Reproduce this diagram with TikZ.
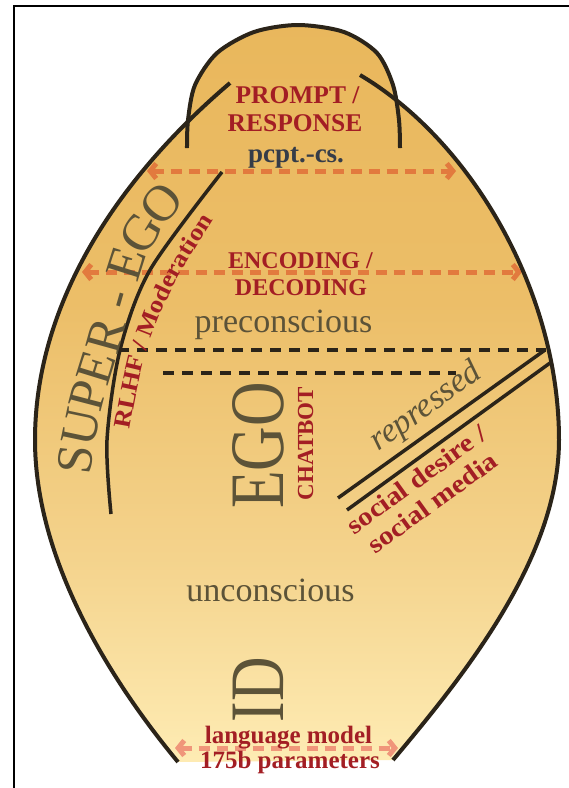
\documentclass[tikz,border=0pt]{standalone}
\usepackage{fontspec}
\usepackage{graphicx}
\setmainfont{Liberation Serif}
\newfontfamily\wideserif[FakeStretch=1.12]{Liberation Serif}
\usetikzlibrary{arrows.meta,decorations.text}
\definecolor{inkline}{RGB}{43,36,25}
\definecolor{egogray}{RGB}{92,83,56}
\definecolor{darkred}{RGB}{163,30,36}
\definecolor{slate}{RGB}{53,60,72}
\definecolor{orangeA}{RGB}{226,122,62}
\definecolor{salmonA}{RGB}{240,150,122}
\pgfdeclareverticalshading{bodyshade}{100bp}{rgb(0bp)=(0.996,0.925,0.706); rgb(25bp)=(0.996,0.925,0.706); rgb(39bp)=(0.957,0.827,0.549); rgb(56bp)=(0.925,0.745,0.408); rgb(75bp)=(0.914,0.718,0.361); rgb(100bp)=(0.914,0.718,0.361)}
\tikzset{
  bodyline/.style={draw=inkline, line width=4pt},
  thinline/.style={draw=inkline, line width=3.5pt},
  blackdash/.style={draw=inkline, line width=4pt, dash pattern=on 11pt off 8pt},
  orangearrow/.style={draw=orangeA, line width=5pt, dash pattern=on 11pt off 7pt,
    {Straight Barb[length=6pt,width=15pt]}-{Straight Barb[length=6pt,width=15pt]}},
  salmonarrow/.style={orangearrow, draw=salmonA},
  redlabel/.style={text=darkred, inner sep=0pt, anchor=base},
  graylabel/.style={text=egogray, inner sep=0pt, anchor=base},
}
\def\leftside{(178,762) .. controls (110,680) and (35,560) .. (35,440) .. controls (35,310) and (110,185) .. (230,83)}
\def\rightside{(360,75) .. controls (470,140) and (559,290) .. (559,440) .. controls (559,560) and (460,680) .. (393,760)}
\def\headline{plot[smooth] coordinates {(187,148) (188,120) (195,85) (217,53) (254,32) (298,25) (344,32) (377,53) (393,85) (399,120) (400,148)}}
\begin{document}
\begin{tikzpicture}[x=1pt,y=-1pt]
\useasboundingbox (0,0) rectangle (569,788);
% fills
\begin{scope}
\clip \leftside -- \rightside -- cycle;
\shade[shading=bodyshade] (0,20) rectangle (569,765);
\end{scope}
\begin{scope}
\clip \headline -- cycle;
\shade[shading=bodyshade] (0,20) rectangle (569,765);
\end{scope}
% frame
\draw[line width=2pt] (13.5,790) -- (13.5,5.5) -- (571,5.5);
% coordinates
\coordinate (a1l) at (147,171); \coordinate (a1r) at (456,171);
\coordinate (a2l) at (82,272); \coordinate (a2r) at (522,272);
\coordinate (a3l) at (175,748); \coordinate (a3r) at (398,748);
\coordinate (b1l) at (118,350); \coordinate (b1r) at (546,350);
\coordinate (b2l) at (163,373); \coordinate (b2r) at (456,373);
\coordinate (d1a) at (338,498); \coordinate (d1b) at (545,350);
\coordinate (d2a) at (347,510); \coordinate (d2b) at (550,363);
% dashed arrows and lines
\draw[orangearrow] (a1l) -- (a1r);
\draw[orangearrow] (a2l) -- (a2r);
\draw[salmonarrow] (a3l) -- (a3r);
\draw[blackdash] (b1l) -- (b1r);
\draw[blackdash] (b2l) -- (b2r);
% outlines
\draw[bodyline] \leftside;
\draw[bodyline] \rightside;
\draw[bodyline] \headline;
\draw[thinline] plot[smooth] coordinates {(222,172) (150,270) (120,350) (107,440) (111,514)};
\draw[thinline] (d1a) -- (d1b);
\draw[thinline] (d2a) -- (d2b);
% texts
\node[redlabel, font=\bfseries\fontsize{25.5}{26}\selectfont] (prompt) at (297.5,103) {PROMPT /};
\node[redlabel, font=\bfseries\fontsize{25.5}{26}\selectfont] (response) at (295,131) {RESPONSE};
\node[text=slate, inner sep=0pt, anchor=base, font=\bfseries\fontsize{27}{27}\selectfont] (pcpt) at (296,162) {pcpt.-cs.};
\node[redlabel, font=\bfseries\fontsize{24}{24}\selectfont] (enc) at (300.5,268) {ENCODING /};
\node[redlabel, font=\bfseries\fontsize{24}{24}\selectfont] (dec) at (301,295) {DECODING};
\node[graylabel, font=\fontsize{34}{34}\selectfont] (precon) at (283.5,332) {preconscious};
\node[graylabel, font=\fontsize{34}{34}\selectfont] (uncon) at (270.5,601) {unconscious};
\node[redlabel, font=\bfseries\fontsize{25}{25}\selectfont] (lang) at (288.5,743) {language model};
\node[redlabel, font=\bfseries\fontsize{25}{25}\selectfont] (params) at (290,768) {175b parameters};
\node[graylabel, rotate=90, font=\fontsize{77}{77}\selectfont] (ego) at (283,445.5) {\scalebox{0.8}[1]{EGO}};
\node[redlabel, rotate=90, font=\bfseries\fontsize{23}{23}\selectfont] (chatbot) at (313,443.5) {CHATBOT};
\node[graylabel, rotate=90, font=\fontsize{77}{77}\selectfont] (id) at (283,689.5) {\scalebox{0.8}[1]{ID}};
\node[graylabel, rotate=35.8, font=\itshape\fontsize{34}{34}\selectfont] (repressed) at (431,414) {repressed};
\node[redlabel, rotate=35.8, font=\wideserif\bfseries\fontsize{26}{26}\selectfont] (social1) at (421.4,486.5) {social desire /};
\node[redlabel, rotate=35.8, font=\wideserif\bfseries\fontsize{26}{26}\selectfont] (social2) at (437.5,509.5) {social media};
\path[decorate, decoration={text along path, text={|\fontsize{51}{51}\selectfont|SUPER - EGO}, text color=egogray, text align=center, raise=-17pt}]
  plot[smooth] coordinates {(66,505) (74,470) (78,440) (88,395) (103,345) (116,298) (130,252) (150,218) (170,193) (182,180) (196,166)};
\path[decorate, decoration={text along path, text={|\wideserif\bfseries\fontsize{24}{24}\selectfont|RLHF / Moderation}, text color=darkred, text align=center, raise=-8pt}]
  plot[smooth] coordinates {(117,455) (121,433) (128,395) (137,355) (148,322) (165,285) (185,250) (208,213) (221,193)};
\end{tikzpicture}
\end{document}
